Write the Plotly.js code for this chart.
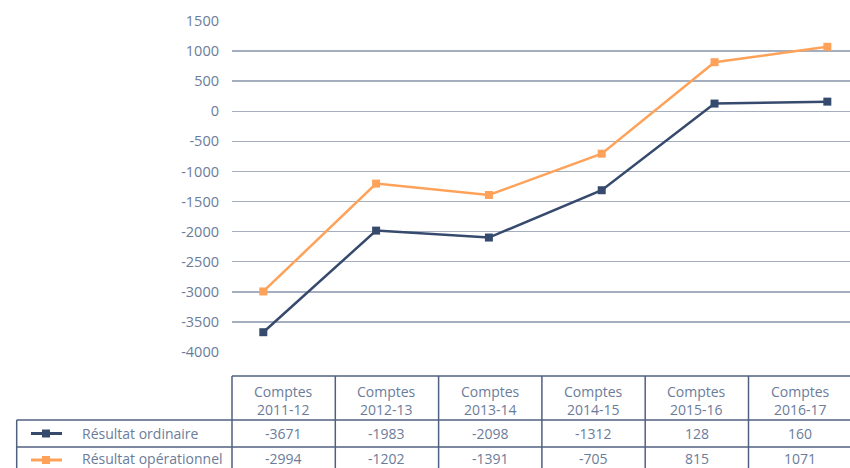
<!DOCTYPE html>
<html>
<head>
<meta charset="utf-8">
<script src="https://cdn.plot.ly/plotly-3.0.1.min.js"></script>
<style>
html,body{margin:0;padding:0;background:#fff;}
#chart{width:850px;height:468px;}
</style>
</head>
<body>
<div id="chart"></div>
<script>
// ---- data ----
var categories = ['Comptes<br>2011-12','Comptes<br>2012-13','Comptes<br>2013-14','Comptes<br>2014-15','Comptes<br>2015-16','Comptes<br>2016-17'];
var seriesNames = ['Résultat ordinaire','Résultat opérationnel'];
var ordinaire = [-3671, -1983, -2098, -1312, 128, 160];
var operationnel = [-2994, -1202, -1391, -705, 815, 1071];
var yTicks = [1500, 1000, 500, 0, -500, -1000, -1500, -2000, -2500, -3000, -3500, -4000];

// ---- styling / layout helpers ----
var NAVY = '#364a6d';
var ORANGE = '#fea25a';
var TEXT = '#6b7c9a';
var BORDER = '#50607f';
var GRID = '#a4aebf';
var FONT = 'Open Sans, sans-serif';

var W = 850, H = 468;
var plotL = 232, plotR = 850, plotT = 21, plotB = 352;
function px(x){ return (x - plotL) / (plotR - plotL); }
function py(y){ return (plotB - y) / (plotB - plotT); }

var xIdx = categories.map(function(_, i){ return i; });

var traces = [
  {x: xIdx, y: ordinaire, name: seriesNames[0], type: 'scatter', mode: 'lines+markers',
   line: {color: NAVY, width: 2.5}, marker: {symbol: 'square', size: 8, color: NAVY}, cliponaxis: false},
  {x: xIdx, y: operationnel, name: seriesNames[1], type: 'scatter', mode: 'lines+markers',
   line: {color: ORANGE, width: 2.5}, marker: {symbol: 'square', size: 8, color: ORANGE}, cliponaxis: false}
];

// table geometry (pixels)
var colL = 232, colW = 103.3, firstL = 16.7;
var headTop = 376, row1Top = 420, row2Top = 447, row3Bot = 474;
var rowCenters = [433.5, 458];

var shapes = [];
var annotations = [];
function hline(x0, x1, y){
  shapes.push({type:'line', xref:'paper', yref:'paper', x0:px(x0), x1:px(x1), y0:py(y), y1:py(y),
    line:{color:BORDER, width:1.5}, layer:'above'});
}
function vline(x, y0, y1){
  shapes.push({type:'line', xref:'paper', yref:'paper', x0:px(x), x1:px(x), y0:py(y0), y1:py(y1),
    line:{color:BORDER, width:1.5}, layer:'above'});
}
hline(colL, 852, headTop);
hline(firstL, 852, row1Top);
hline(firstL, 852, row2Top);
hline(firstL, 852, row3Bot);
vline(firstL, row1Top, row3Bot);
for (var c = 0; c <= categories.length; c++) {
  vline(colL + c*colW, headTop, row3Bot);
}

var rows = [ordinaire, operationnel];
var colors = [NAVY, ORANGE];
categories.forEach(function(cat, i){
  var cx = colL + colW*(i + 0.5);
  annotations.push({xref:'paper', yref:'paper', x:px(cx), y:py(400), text:cat, showarrow:false,
    xanchor:'center', yanchor:'middle', font:{family:FONT, size:14, color:TEXT}});
  rows.forEach(function(r, k){
    annotations.push({xref:'paper', yref:'paper', x:px(cx), y:py(rowCenters[k]), text:String(r[i]), showarrow:false,
      xanchor:'center', yanchor:'middle', font:{family:FONT, size:14, color:TEXT}});
  });
});
seriesNames.forEach(function(n, k){
  var yc = rowCenters[k];
  annotations.push({xref:'paper', yref:'paper', x:px(80), y:py(yc), text:n, showarrow:false,
    xanchor:'left', yanchor:'middle', font:{family:FONT, size:14, color:TEXT}});
  var ys = k === 0 ? yc : 460;
  shapes.push({type:'line', xref:'paper', yref:'paper', x0:px(31), x1:px(62), y0:py(ys), y1:py(ys),
    line:{color:colors[k], width:3}, layer:'above'});
  shapes.push({type:'rect', xref:'paper', yref:'paper', x0:px(42), x1:px(50), y0:py(ys+4), y1:py(ys-4),
    line:{width:0}, fillcolor:colors[k], layer:'above'});
});

var layout = {
  width: W, height: H,
  margin: {l: plotL, r: W - plotR, t: plotT, b: H - plotB, pad: 0},
  paper_bgcolor: '#fff', plot_bgcolor: '#fff',
  showlegend: false,
  font: {family: FONT, color: TEXT, size: 14},
  xaxis: {range: [-0.2775, 5.201], showgrid: false, zeroline: false, showticklabels: false,
          ticks: '', showline: false, fixedrange: true},
  yaxis: {range: [-4000, 1500], tickvals: yTicks, ticktext: yTicks.map(String),
          showgrid: true, gridcolor: GRID, gridwidth: 1.5,
          zeroline: true, zerolinecolor: GRID, zerolinewidth: 1.5,
          showline: false, ticks: '', ticklabelstandoff: 12,
          tickfont: {family: FONT, size: 14.5, color: TEXT}, fixedrange: true},
  shapes: shapes,
  annotations: annotations
};

Plotly.newPlot('chart', traces, layout, {displayModeBar: false, staticPlot: true});
</script>
</body>
</html>
